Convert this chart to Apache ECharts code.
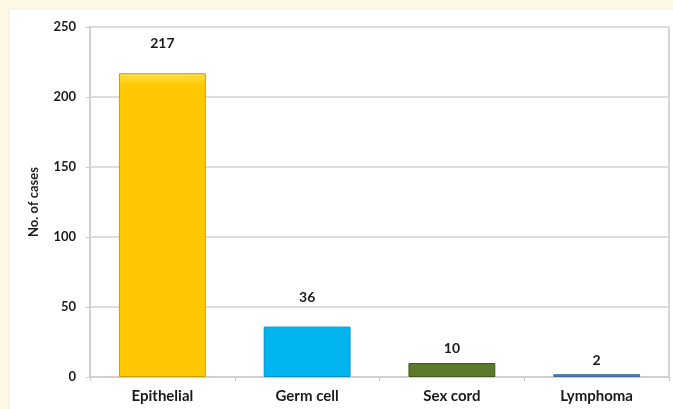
<!DOCTYPE html>
<html>
<head>
<meta charset="utf-8">
<script src="https://cdn.jsdelivr.net/npm/echarts@6/dist/echarts.min.js"></script>
<style>
  html, body { margin: 0; padding: 0; background: #fef9e6; }
  #chart { width: 673px; height: 409px; }
</style>
</head>
<body>
<div id="chart"></div>
<script>
// Tumour types and their case counts
const categories = ['Epithelial', 'Germ cell', 'Sex cord', 'Lymphoma'];
const cases = [217, 36, 10, 2];
const yTicks = [0, 50, 100, 150, 200, 250];

// Fill colours per bar: [top highlight, body, edge]
const barColors = [
  ['#ffe24a', '#ffc800', '#c9a000'],
  ['#5fd6ff', '#00b4f0', '#0090c8'],
  ['#7d9a48', '#5b7a2c', '#3f5a1c'],
  ['#7aa6dc', '#4f81bd', '#3d6aa0']
];
// Space between each bar top and its value label
const labelGap = [23, 22, 8, 7];

const chart = echarts.init(document.getElementById('chart'));

const seriesData = cases.map((v, i) => ({
  value: v,
  itemStyle: {
    color: new echarts.graphic.LinearGradient(0, 0, 0, 1, [
      { offset: 0, color: barColors[i][0] },
      { offset: 0.04, color: barColors[i][1] },
      { offset: 1, color: barColors[i][1] }
    ]),
    borderColor: barColors[i][2],
    borderWidth: 1
  },
  label: { distance: labelGap[i] }
}));

chart.setOption({
  backgroundColor: '#fef9e6',
  animation: false,
  graphic: [{
    type: 'rect',
    shape: { x: 9, y: 9, width: 680, height: 420 },
    style: { fill: '#ffffff', stroke: '#f3ecd6', lineWidth: 1 },
    z: -10
  }],
  grid: {
    left: 90, top: 27, right: 4, bottom: 32,
    show: true,
    borderColor: '#d6d6d6',
    borderWidth: 2,
    backgroundColor: 'transparent'
  },
  xAxis: {
    type: 'category',
    data: categories,
    axisLine: { lineStyle: { color: '#d0d0d0', width: 2 } },
    axisTick: { show: true, length: 4, lineStyle: { color: '#c8c8c8' } },
    axisLabel: {
      color: '#1a1a1a', fontFamily: 'Lato', fontWeight: 'bold', fontSize: 15, margin: 12
    }
  },
  yAxis: {
    type: 'value',
    min: yTicks[0],
    max: yTicks[yTicks.length - 1],
    interval: yTicks[1] - yTicks[0],
    name: 'No. of cases',
    nameLocation: 'middle',
    nameGap: 50,
    nameTextStyle: { color: '#1a1a1a', fontFamily: 'Lato', fontWeight: 'bold', fontSize: 13 },
    axisLine: { show: true, lineStyle: { color: '#d0d0d0', width: 2 } },
    axisTick: { show: true, length: 4, lineStyle: { color: '#c8c8c8' } },
    axisLabel: {
      color: '#1a1a1a', fontFamily: 'Lato', fontWeight: 'bold', fontSize: 13, margin: 14
    },
    splitLine: { lineStyle: { color: '#dcdcdc', width: 2 } }
  },
  series: [{
    type: 'bar',
    data: seriesData,
    barWidth: '60%',
    label: {
      show: true,
      position: 'top',
      color: '#1a1a1a',
      fontFamily: 'Lato',
      fontWeight: 'bold',
      fontSize: 14
    }
  }]
});
</script>
</body>
</html>
